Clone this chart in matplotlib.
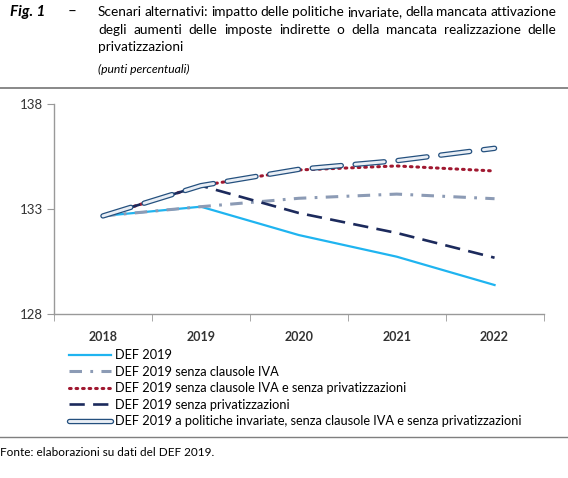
import matplotlib
matplotlib.use('Agg')
import matplotlib.pyplot as plt
from matplotlib.lines import Line2D
from matplotlib.legend_handler import HandlerTuple

plt.rcParams['font.family'] = ['Lato', 'DejaVu Sans']
plt.rcParams['lines.scale_dashes'] = False

# dati (punti percentuali)
anni = ['2018', '2019', '2020', '2021', '2022']
def_2019 = [132.67, 133.11, 131.76, 130.73, 129.38]
senza_iva = [132.67, 133.11, 133.51, 133.71, 133.49]
senza_iva_priv = [132.67, 134.11, 134.86, 135.05, 134.81]
senza_priv = [132.67, 134.11, 132.81, 131.86, 130.68]
invariate = [132.67, 134.11, 134.89, 135.30, 135.89]

etichette = ['DEF 2019',
             'DEF 2019 senza clausole IVA',
             'DEF 2019 senza clausole IVA e senza privatizzazioni',
             'DEF 2019 senza privatizzazioni',
             'DEF 2019 a politiche invariate, senza clausole IVA e senza privatizzazioni']

W, H = 568, 478
fig = plt.figure(figsize=(W / 100, H / 100), dpi=100)

def fx(px):
    return px / W

def fy(py):
    return 1 - py / H

# titolo (righe giustificate a mano)
fs_tit = 9.8
fig.text(fx(10), fy(12), 'Fig. 1', fontsize=11, fontweight='bold', style='italic', va='center')
fig.text(fx(68), fy(12), '–', fontsize=11, va='center')
righe = ['Scenari alternativi: impatto delle politiche invariate, della mancata attivazione',
         'degli aumenti delle imposte indirette o della mancata realizzazione delle']
x0, x1 = 98, 556
r = fig.canvas.get_renderer()
for i, riga in enumerate(righe):
    yy = fy(12 + 17.5 * i)
    parole = riga.split(' ')
    objs = [fig.text(0, yy, p, fontsize=fs_tit, va='center') for p in parole]
    larg = [o.get_window_extent(r).width for o in objs]
    gap = max((x1 - x0 - sum(larg)) / (len(parole) - 1), 2.5)
    pos = x0
    for o, w in zip(objs, larg):
        o.set_x(fx(pos))
        pos += w + gap
fig.text(fx(x0), fy(47), 'privatizzazioni', fontsize=fs_tit, va='center')
fig.text(fx(x0), fy(69), '(punti percentuali)', fontsize=8.7, style='italic', va='center')

fig.add_artist(Line2D([0, 1], [fy(88), fy(88)], color='#7f7f7f', lw=1.3))
fig.add_artist(Line2D([0, 1], [fy(437), fy(437)], color='#7f7f7f', lw=1.0))
fig.text(0.0, fy(452), 'Fonte: elaborazioni su dati del DEF 2019.', fontsize=8.5, va='center')

# grafico
ax = fig.add_axes([fx(54), fy(314), fx(543.5 - 54), (314 - 104) / H])
x = list(range(len(anni)))

ax.plot(x, def_2019, color='#1fb4f0', lw=1.6)
ax.plot(x, senza_iva, color='#8c9bb5', lw=2.2, dashes=(9, 6, 2, 6))
ax.plot(x, senza_iva_priv, color='#a01830', lw=2.2, dashes=(1.2, 3.5), dash_capstyle='round')
ax.plot(x, senza_priv, color='#1c2a5c', lw=1.9, dashes=(11, 6))
ax.plot(x, invariate, color='#24507e', lw=3.9, dashes=(21, 10), dash_capstyle='round')
ax.plot(x, invariate, color='#e9eef5', lw=2.1, dashes=(21, 10), dash_capstyle='round')

ax.set_xlim(-0.5, 4.5)
ax.set_ylim(128, 138)
ax.set_yticks([128, 133, 138])
ax.set_xticks(x)
ax.set_xticklabels(anni)
ax.set_xticks([-0.5, 0.5, 1.5, 2.5, 3.5, 4.5], minor=True)
ax.tick_params(axis='x', which='major', length=0, pad=12, labelsize=9, colors='#333333')
ax.tick_params(axis='x', which='minor', length=5, color='#999999')
ax.tick_params(axis='y', length=5, color='#999999', labelsize=9.5, labelcolor='#333333', pad=3)
for lab in ax.get_xticklabels():
    lab.set_fontweight('bold')
for s in ['top', 'right']:
    ax.spines[s].set_visible(False)
for s in ['left', 'bottom']:
    ax.spines[s].set_color('#999999')
    ax.spines[s].set_linewidth(1.0)

# legenda
h1 = Line2D([], [], color='#1fb4f0', lw=1.6)
h2 = Line2D([], [], color='#8c9bb5', lw=2.2, dashes=(9, 6, 2, 6))
h3 = Line2D([], [], color='#a01830', lw=2.2, dashes=(1.2, 3.5), dash_capstyle='round')
h4 = Line2D([], [], color='#1c2a5c', lw=1.9, dashes=(11, 6))
h5a = Line2D([], [], color='#24507e', lw=3.9, solid_capstyle='round')
h5b = Line2D([], [], color='#e9eef5', lw=2.1, solid_capstyle='round')
fig.legend([h1, h2, h3, h4, (h5a, h5b)], etichette, loc='upper left',
           bbox_to_anchor=(fx(64), fy(344)), frameon=False, fontsize=9.2,
           handlelength=3.3, handletextpad=0.3, labelspacing=0.35, borderaxespad=0,
           handler_map={tuple: HandlerTuple(ndivide=1, pad=0)})

fig.savefig('out.png', dpi=100)
